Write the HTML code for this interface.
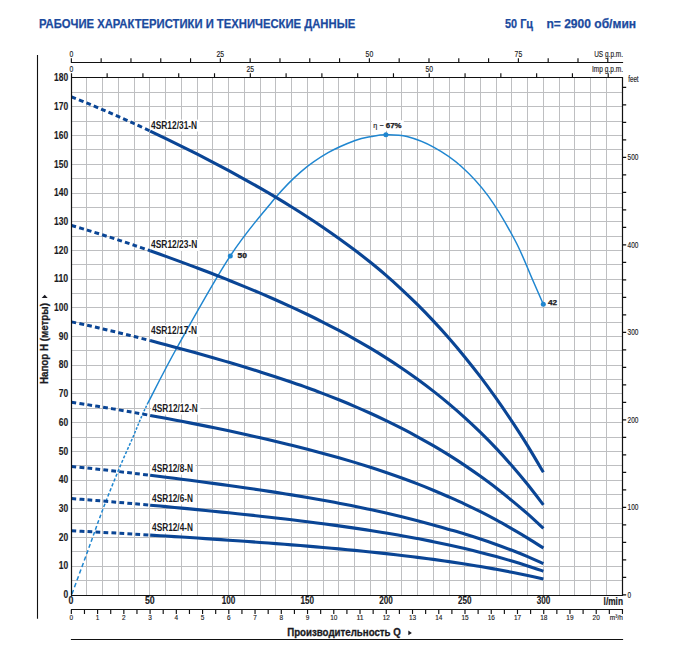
<!DOCTYPE html>
<html><head><meta charset="utf-8"><title>chart</title>
<style>html,body{margin:0;padding:0;background:#fff}svg{display:block}text{font-family:"Liberation Sans",sans-serif;white-space:pre}</style></head><body>
<svg width="678" height="666" viewBox="0 0 678 666">
<rect width="678" height="666" fill="#fff"/>
<text x="39.00" y="28.40" font-size="12.70" font-weight="bold" textLength="316.20" lengthAdjust="spacingAndGlyphs" fill="#1b4a9e" stroke="#1b4a9e" stroke-width="0.25">РАБОЧИЕ ХАРАКТЕРИСТИКИ И ТЕХНИЧЕСКИЕ ДАННЫЕ</text>
<text x="505.00" y="28.40" font-size="12.70" font-weight="bold" textLength="28.00" lengthAdjust="spacingAndGlyphs" fill="#1b4a9e" stroke="#1b4a9e" stroke-width="0.25">50 Гц</text>
<text x="546.40" y="28.40" font-size="12.70" font-weight="bold" textLength="89.70" lengthAdjust="spacingAndGlyphs" fill="#1b4a9e" stroke="#1b4a9e" stroke-width="0.25">n= 2900 об/мин</text>
<path d="M86.5 77.50V595.50M102.5 77.50V595.50M118.5 77.50V595.50M134.5 77.50V595.50M149.5 77.50V595.50M165.5 77.50V595.50M181.5 77.50V595.50M197.5 77.50V595.50M212.5 77.50V595.50M228.5 77.50V595.50M244.5 77.50V595.50M260.5 77.50V595.50M275.5 77.50V595.50M291.5 77.50V595.50M307.5 77.50V595.50M323.5 77.50V595.50M338.5 77.50V595.50M354.5 77.50V595.50M370.5 77.50V595.50M386.5 77.50V595.50M401.5 77.50V595.50M417.5 77.50V595.50M433.5 77.50V595.50M449.5 77.50V595.50M464.5 77.50V595.50M480.5 77.50V595.50M496.5 77.50V595.50M511.5 77.50V595.50M527.5 77.50V595.50M543.5 77.50V595.50M559.5 77.50V595.50M574.5 77.50V595.50M590.5 77.50V595.50M606.5 77.50V595.50M71.50 580.5H622.50M71.50 566.5H622.50M71.50 551.5H622.50M71.50 537.5H622.50M71.50 523.5H622.50M71.50 508.5H622.50M71.50 494.5H622.50M71.50 480.5H622.50M71.50 465.5H622.50M71.50 451.5H622.50M71.50 437.5H622.50M71.50 422.5H622.50M71.50 408.5H622.50M71.50 393.5H622.50M71.50 379.5H622.50M71.50 365.5H622.50M71.50 350.5H622.50M71.50 336.5H622.50M71.50 322.5H622.50M71.50 307.5H622.50M71.50 293.5H622.50M71.50 279.5H622.50M71.50 264.5H622.50M71.50 250.5H622.50M71.50 236.5H622.50M71.50 221.5H622.50M71.50 207.5H622.50M71.50 193.5H622.50M71.50 178.5H622.50M71.50 164.5H622.50M71.50 149.5H622.50M71.50 135.5H622.50M71.50 121.5H622.50M71.50 106.5H622.50M71.50 92.5H622.50" stroke="#bebfc1" stroke-width="1" fill="none"/>
<rect x="150.10" y="119.60" width="49.50" height="11.90" fill="#fff"/>
<rect x="150.10" y="239.10" width="49.70" height="11.80" fill="#fff"/>
<rect x="150.10" y="325.00" width="49.50" height="11.80" fill="#fff"/>
<rect x="151.20" y="402.80" width="49.10" height="11.80" fill="#fff"/>
<rect x="151.10" y="462.60" width="44.40" height="11.90" fill="#fff"/>
<rect x="151.10" y="492.60" width="44.40" height="11.90" fill="#fff"/>
<rect x="151.10" y="521.50" width="44.40" height="11.80" fill="#fff"/>
<rect x="371.9" y="120.2" width="31.9" height="10.6" fill="#fff"/>
<path d="M71.84 594.26L73.45 589.91M74.43 587.24L76.00 582.97M76.96 580.35L78.50 576.16M79.45 573.59L80.96 569.48M81.89 566.96L83.37 562.93M84.27 560.45L85.72 556.49M86.61 554.07L88.03 550.18M88.89 547.79L90.26 543.97M91.10 541.63L92.44 537.88M93.27 535.58L94.58 531.90M95.39 529.65L96.69 526.04M97.49 523.83L98.77 520.30M99.56 518.13L100.84 514.67M101.63 512.55L102.91 509.16M103.70 507.09L104.98 503.77M105.77 501.74L107.04 498.50M107.82 496.51L109.08 493.33M109.86 491.38L111.11 488.27M111.87 486.36L113.11 483.31M113.87 481.44L115.09 478.45M115.85 476.62L117.05 473.69M117.80 471.90L118.99 469.03M119.72 467.27L120.91 464.46M121.64 462.74L122.82 459.99M123.56 458.31L124.74 455.62M125.47 453.97L126.64 451.34M127.36 449.73L128.52 447.15M129.22 445.57L130.35 443.04M131.04 441.48L132.14 438.99M132.81 437.46L133.86 435.01M134.49 433.50L135.50 431.08M136.11 429.60L137.09 427.22M137.69 425.77L138.66 423.44M139.25 422.01L140.22 419.73M140.81 418.34L141.78 416.12M142.38 414.76L143.36 412.58M143.97 411.26L144.95 409.14M145.56 407.84L146.55 405.77M147.16 404.51L147.80 403.20" stroke="#1f86d0" stroke-width="1.5" fill="none"/>
<path d="M147.80 403.20 C152.77 393.75 163.85 371.05 177.60 346.50 C191.35 321.95 214.00 280.68 230.30 255.90 C246.60 231.12 263.60 211.85 275.40 197.80 C287.20 183.75 292.32 179.12 301.10 171.60 C309.88 164.08 319.10 157.88 328.10 152.70 C337.10 147.52 347.88 143.20 355.10 140.50 C362.32 137.80 366.25 137.47 371.40 136.50 C376.55 135.53 380.07 134.70 386.00 134.70 C391.93 134.70 399.00 134.40 407.00 136.50 C415.00 138.60 424.98 142.35 434.00 147.30 C443.02 152.25 452.08 158.10 461.10 166.20 C470.12 174.30 479.10 183.52 488.10 195.90 C497.10 208.28 507.67 226.48 515.10 240.50 C522.53 254.52 528.00 269.37 532.70 280.00 C537.40 290.63 541.53 300.25 543.30 304.30" stroke="#1f86d0" stroke-width="1.5" fill="none"/>
<circle cx="230.3" cy="255.9" r="2.5" fill="#1f86d0"/>
<circle cx="385.9" cy="134.8" r="2.5" fill="#1f86d0"/>
<circle cx="543.3" cy="304.3" r="2.5" fill="#1f86d0"/>
<path d="M71.50 96.90 C74.12 97.95 81.99 101.05 87.23 103.20 C92.47 105.35 97.72 107.56 102.96 109.80 C108.20 112.04 113.45 114.33 118.69 116.66 C123.93 118.98 129.18 121.35 134.42 123.75 C139.66 126.15 147.53 129.84 150.15 131.06" stroke="#0a4595" stroke-width="3.0" fill="none" stroke-dasharray="4.8 3.2"/>
<path d="M150.15 131.06 C152.77 132.31 160.64 136.04 165.88 138.58 C171.12 141.12 176.37 143.69 181.61 146.29 C186.85 148.90 192.10 151.54 197.34 154.21 C202.58 156.88 207.83 159.59 213.07 162.34 C218.31 165.09 223.56 167.87 228.80 170.70 C234.04 173.52 239.29 176.39 244.53 179.30 C249.77 182.22 255.02 185.18 260.26 188.19 C265.50 191.21 270.75 194.27 275.99 197.40 C281.23 200.53 286.48 203.71 291.72 206.97 C296.96 210.22 302.21 213.54 307.45 216.95 C312.69 220.36 317.94 223.83 323.18 227.41 C328.42 230.98 333.67 234.63 338.91 238.40 C344.15 242.17 349.40 246.02 354.64 250.01 C359.88 253.99 365.13 258.07 370.37 262.30 C375.61 266.53 380.86 270.84 386.10 275.38 C391.34 279.91 396.59 284.64 401.83 289.52 C407.07 294.40 412.32 299.42 417.56 304.64 C422.80 309.86 428.05 315.24 433.29 320.84 C438.53 326.43 443.78 332.21 449.02 338.23 C454.26 344.25 459.51 350.49 464.75 356.94 C469.99 363.38 475.24 369.98 480.48 376.90 C485.72 383.81 490.97 391.02 496.21 398.44 C501.45 405.85 506.70 413.46 511.94 421.36 C517.18 429.26 522.43 437.33 527.67 445.82 C532.91 454.31 540.78 467.90 543.40 472.32" stroke="#0a4595" stroke-width="3.1" fill="none"/>
<path d="M71.50 225.44 C74.12 226.22 81.99 228.52 87.23 230.12 C92.47 231.71 97.72 233.35 102.96 235.01 C108.20 236.67 113.45 238.37 118.69 240.10 C123.93 241.82 129.18 243.58 134.42 245.36 C139.66 247.14 147.53 249.88 150.15 250.79" stroke="#0a4595" stroke-width="3.0" fill="none" stroke-dasharray="4.8 3.2"/>
<path d="M150.15 250.79 C152.77 251.72 160.64 254.48 165.88 256.36 C171.12 258.25 176.37 260.15 181.61 262.09 C186.85 264.02 192.10 265.98 197.34 267.96 C202.58 269.95 207.83 271.96 213.07 273.99 C218.31 276.03 223.56 278.10 228.80 280.19 C234.04 282.29 239.29 284.42 244.53 286.58 C249.77 288.74 255.02 290.94 260.26 293.17 C265.50 295.41 270.75 297.68 275.99 300.00 C281.23 302.33 286.48 304.69 291.72 307.10 C296.96 309.52 302.21 311.98 307.45 314.51 C312.69 317.04 317.94 319.62 323.18 322.27 C328.42 324.92 333.67 327.63 338.91 330.43 C344.15 333.22 349.40 336.08 354.64 339.04 C359.88 341.99 365.13 345.02 370.37 348.16 C375.61 351.30 380.86 354.52 386.10 357.86 C391.34 361.20 396.59 364.64 401.83 368.21 C407.07 371.77 412.32 375.45 417.56 379.27 C422.80 383.10 428.05 387.04 433.29 391.14 C438.53 395.25 443.78 399.48 449.02 403.90 C454.26 408.31 459.51 412.88 464.75 417.63 C469.99 422.39 475.24 427.31 480.48 432.44 C485.72 437.57 490.97 442.87 496.21 448.42 C501.45 453.97 506.70 459.74 511.94 465.76 C517.18 471.79 522.43 478.05 527.67 484.57 C532.91 491.10 540.78 501.51 543.40 504.90" stroke="#0a4595" stroke-width="3.1" fill="none"/>
<path d="M71.50 321.85 C74.12 322.43 81.99 324.13 87.23 325.30 C92.47 326.48 97.72 327.69 102.96 328.92 C108.20 330.15 113.45 331.41 118.69 332.68 C123.93 333.96 129.18 335.26 134.42 336.57 C139.66 337.89 147.53 339.91 150.15 340.58" stroke="#0a4595" stroke-width="3.0" fill="none" stroke-dasharray="4.8 3.2"/>
<path d="M150.15 340.58 C152.77 341.27 160.64 343.31 165.88 344.70 C171.12 346.10 176.37 347.51 181.61 348.93 C186.85 350.36 192.10 351.81 197.34 353.28 C202.58 354.74 207.83 356.23 213.07 357.73 C218.31 359.24 223.56 360.77 228.80 362.32 C234.04 363.87 239.29 365.44 244.53 367.04 C249.77 368.64 255.02 370.26 260.26 371.91 C265.50 373.56 270.75 375.24 275.99 376.96 C281.23 378.68 286.48 380.42 291.72 382.21 C296.96 383.99 302.21 385.78 307.45 387.68 C312.69 389.58 317.94 391.58 323.18 393.60 C328.42 395.62 333.67 397.68 338.91 399.81 C344.15 401.93 349.40 404.10 354.64 406.35 C359.88 408.59 365.13 410.89 370.37 413.27 C375.61 415.65 380.86 418.10 386.10 420.62 C391.34 423.15 396.59 425.74 401.83 428.43 C407.07 431.12 412.32 433.90 417.56 436.77 C422.80 439.64 428.05 442.59 433.29 445.65 C438.53 448.71 443.78 451.85 449.02 455.14 C454.26 458.42 459.51 461.81 464.75 465.35 C469.99 468.88 475.24 472.57 480.48 476.35 C485.72 480.12 490.97 483.96 496.21 488.01 C501.45 492.05 506.70 496.29 511.94 500.62 C517.18 504.94 522.43 509.32 527.67 513.95 C532.91 518.58 540.78 526.00 543.40 528.41" stroke="#0a4595" stroke-width="3.1" fill="none"/>
<path d="M71.50 402.19 C74.12 402.59 81.99 403.79 87.23 404.63 C92.47 405.46 97.72 406.31 102.96 407.18 C108.20 408.05 113.45 408.93 118.69 409.83 C123.93 410.73 129.18 411.65 134.42 412.58 C139.66 413.51 147.53 414.94 150.15 415.41" stroke="#0a4595" stroke-width="3.0" fill="none" stroke-dasharray="4.8 3.2"/>
<path d="M150.15 415.41 C152.77 415.90 160.64 417.34 165.88 418.32 C171.12 419.30 176.37 420.30 181.61 421.31 C186.85 422.32 192.10 423.34 197.34 424.37 C202.58 425.41 207.83 426.45 213.07 427.52 C218.31 428.58 223.56 429.64 228.80 430.75 C234.04 431.87 239.29 433.03 244.53 434.20 C249.77 435.37 255.02 436.55 260.26 437.75 C265.50 438.96 270.75 440.18 275.99 441.43 C281.23 442.68 286.48 443.95 291.72 445.25 C296.96 446.55 302.21 447.87 307.45 449.23 C312.69 450.59 317.94 451.97 323.18 453.39 C328.42 454.81 333.67 456.26 338.91 457.76 C344.15 459.26 349.40 460.80 354.64 462.38 C359.88 463.97 365.13 465.59 370.37 467.27 C375.61 468.95 380.86 470.67 386.10 472.46 C391.34 474.25 396.59 476.08 401.83 477.99 C407.07 479.89 412.32 481.85 417.56 483.89 C422.80 485.93 428.05 488.03 433.29 490.21 C438.53 492.40 443.78 494.68 449.02 497.00 C454.26 499.31 459.51 501.62 464.75 504.07 C469.99 506.53 475.24 509.06 480.48 511.71 C485.72 514.36 490.97 517.10 496.21 519.96 C501.45 522.82 506.70 525.86 511.94 528.88 C517.18 531.90 522.43 534.89 527.67 538.09 C532.91 541.29 540.78 546.41 543.40 548.08" stroke="#0a4595" stroke-width="3.1" fill="none"/>
<path d="M71.50 466.46 C74.12 466.73 81.99 467.53 87.23 468.08 C92.47 468.64 97.72 469.21 102.96 469.79 C108.20 470.37 113.45 470.96 118.69 471.56 C123.93 472.16 129.18 472.77 134.42 473.39 C139.66 474.01 147.53 474.96 150.15 475.27" stroke="#0a4595" stroke-width="3.0" fill="none" stroke-dasharray="4.8 3.2"/>
<path d="M150.15 475.27 C152.77 475.60 160.64 476.56 165.88 477.21 C171.12 477.87 176.37 478.53 181.61 479.20 C186.85 479.88 192.10 480.56 197.34 481.25 C202.58 481.94 207.83 482.64 213.07 483.35 C218.31 484.05 223.56 484.77 228.80 485.50 C234.04 486.23 239.29 486.97 244.53 487.72 C249.77 488.48 255.02 489.24 260.26 490.02 C265.50 490.80 270.75 491.59 275.99 492.39 C281.23 493.20 286.48 494.02 291.72 494.86 C296.96 495.70 302.21 496.54 307.45 497.44 C312.69 498.33 317.94 499.28 323.18 500.24 C328.42 501.19 333.67 502.17 338.91 503.17 C344.15 504.18 349.40 505.21 354.64 506.27 C359.88 507.33 365.13 508.42 370.37 509.54 C375.61 510.67 380.86 511.82 386.10 513.02 C391.34 514.21 396.59 515.44 401.83 516.72 C407.07 517.99 412.32 519.30 417.56 520.66 C422.80 522.03 428.05 523.43 433.29 524.89 C438.53 526.35 443.78 527.90 449.02 529.43 C454.26 530.96 459.51 532.45 464.75 534.06 C469.99 535.66 475.24 537.32 480.48 539.06 C485.72 540.79 490.97 542.59 496.21 544.47 C501.45 546.34 506.70 548.29 511.94 550.32 C517.18 552.35 522.43 554.46 527.67 556.66 C532.91 558.86 540.78 562.38 543.40 563.52" stroke="#0a4595" stroke-width="3.1" fill="none"/>
<path d="M71.50 498.59 C74.12 498.80 81.99 499.39 87.23 499.81 C92.47 500.22 97.72 500.64 102.96 501.08 C108.20 501.51 113.45 501.95 118.69 502.40 C123.93 502.85 129.18 503.30 134.42 503.76 C139.66 504.23 147.53 504.94 150.15 505.17" stroke="#0a4595" stroke-width="3.0" fill="none" stroke-dasharray="4.8 3.2"/>
<path d="M150.15 505.17 C152.77 505.41 160.64 506.13 165.88 506.62 C171.12 507.11 176.37 507.60 181.61 508.11 C186.85 508.61 192.10 509.12 197.34 509.63 C202.58 510.15 207.83 510.67 213.07 511.20 C218.31 511.73 223.56 512.26 228.80 512.81 C234.04 513.35 239.29 513.91 244.53 514.47 C249.77 515.03 255.02 515.60 260.26 516.18 C265.50 516.76 270.75 517.35 275.99 517.96 C281.23 518.56 286.48 519.17 291.72 519.80 C296.96 520.43 302.21 521.07 307.45 521.73 C312.69 522.39 317.94 523.06 323.18 523.75 C328.42 524.44 333.67 525.14 338.91 525.87 C344.15 526.59 349.40 527.34 354.64 528.11 C359.88 528.88 365.13 529.66 370.37 530.48 C375.61 531.30 380.86 532.13 386.10 533.00 C391.34 533.87 396.59 534.77 401.83 535.70 C407.07 536.63 412.32 537.58 417.56 538.58 C422.80 539.57 428.05 540.60 433.29 541.67 C438.53 542.74 443.78 543.84 449.02 544.99 C454.26 546.14 459.51 547.32 464.75 548.56 C469.99 549.80 475.24 551.08 480.48 552.42 C485.72 553.76 490.97 555.14 496.21 556.58 C501.45 558.02 506.70 559.52 511.94 561.08 C517.18 562.64 522.43 564.25 527.67 565.94 C532.91 567.62 540.78 570.31 543.40 571.19" stroke="#0a4595" stroke-width="3.1" fill="none"/>
<path d="M71.50 530.73 C74.12 530.86 81.99 531.26 87.23 531.54 C92.47 531.81 97.72 532.09 102.96 532.38 C108.20 532.67 113.45 532.96 118.69 533.26 C123.93 533.56 129.18 533.86 134.42 534.17 C139.66 534.47 147.53 534.95 150.15 535.10" stroke="#0a4595" stroke-width="3.0" fill="none" stroke-dasharray="4.8 3.2"/>
<path d="M150.15 535.10 C152.77 535.26 160.64 535.74 165.88 536.07 C171.12 536.39 176.37 536.72 181.61 537.06 C186.85 537.39 192.10 537.73 197.34 538.07 C202.58 538.41 207.83 538.76 213.07 539.11 C218.31 539.47 223.56 539.82 228.80 540.18 C234.04 540.55 239.29 540.91 244.53 541.29 C249.77 541.66 255.02 542.04 260.26 542.43 C265.50 542.82 270.75 543.21 275.99 543.61 C281.23 544.01 286.48 544.42 291.72 544.84 C296.96 545.26 302.21 545.68 307.45 546.12 C312.69 546.56 317.94 547.00 323.18 547.46 C328.42 547.92 333.67 548.39 338.91 548.87 C344.15 549.36 349.40 549.85 354.64 550.36 C359.88 550.88 365.13 551.40 370.37 551.94 C375.61 552.49 380.86 553.05 386.10 553.62 C391.34 554.20 396.59 554.80 401.83 555.42 C407.07 556.04 412.32 556.67 417.56 557.34 C422.80 558.00 428.05 558.68 433.29 559.39 C438.53 560.10 443.78 560.84 449.02 561.61 C454.26 562.37 459.51 563.16 464.75 563.99 C469.99 564.81 475.24 565.67 480.48 566.56 C485.72 567.45 490.97 568.37 496.21 569.33 C501.45 570.29 506.70 571.28 511.94 572.32 C517.18 573.36 522.43 574.44 527.67 575.56 C532.91 576.68 540.78 578.48 543.40 579.06" stroke="#0a4595" stroke-width="3.1" fill="none"/>
<text x="151.10" y="128.90" font-size="10.50" font-weight="bold" textLength="46.00" lengthAdjust="spacingAndGlyphs" fill="#1a1a22">4SR12/31-N</text>
<text x="151.10" y="248.30" font-size="10.50" font-weight="bold" textLength="46.20" lengthAdjust="spacingAndGlyphs" fill="#1a1a22">4SR12/23-N</text>
<text x="151.10" y="334.20" font-size="10.50" font-weight="bold" textLength="46.00" lengthAdjust="spacingAndGlyphs" fill="#1a1a22">4SR12/17-N</text>
<text x="152.20" y="412.00" font-size="10.50" font-weight="bold" textLength="45.60" lengthAdjust="spacingAndGlyphs" fill="#1a1a22">4SR12/12-N</text>
<text x="152.10" y="471.90" font-size="10.50" font-weight="bold" textLength="40.90" lengthAdjust="spacingAndGlyphs" fill="#1a1a22">4SR12/8-N</text>
<text x="152.10" y="501.90" font-size="10.50" font-weight="bold" textLength="40.90" lengthAdjust="spacingAndGlyphs" fill="#1a1a22">4SR12/6-N</text>
<text x="152.10" y="530.70" font-size="10.50" font-weight="bold" textLength="40.90" lengthAdjust="spacingAndGlyphs" fill="#1a1a22">4SR12/4-N</text>
<text x="373.30" y="128.00" font-size="6.50" textLength="4.00" lengthAdjust="spacingAndGlyphs" fill="#1a1a22" stroke="#1a1a22" stroke-width="0.15">η</text>
<text x="379.60" y="127.40" font-size="6.50" font-weight="bold" textLength="4.30" lengthAdjust="spacingAndGlyphs" fill="#1a1a22">–</text>
<text x="385.80" y="128.00" font-size="6.30" font-weight="bold" textLength="15.80" lengthAdjust="spacingAndGlyphs" fill="#1a1a22" stroke="#1a1a22" stroke-width="0.25">67%</text>
<text x="237.50" y="257.80" font-size="6.30" font-weight="bold" textLength="9.40" lengthAdjust="spacingAndGlyphs" fill="#1a1a22" stroke="#1a1a22" stroke-width="0.25">50</text>
<text x="548.00" y="304.90" font-size="6.30" font-weight="bold" textLength="9.10" lengthAdjust="spacingAndGlyphs" fill="#1a1a22" stroke="#1a1a22" stroke-width="0.25">42</text>
<path d="M71.50 73.20V595.50H622.50V77.50H70.90" stroke="#111" stroke-width="1.2" fill="none"/>
<path d="M107.14 77.50V73.20M142.93 77.50V73.20M178.72 77.50V73.20M214.52 77.50V73.20M250.31 77.50V73.20M286.10 77.50V73.20M321.89 77.50V73.20M357.68 77.50V73.20M393.47 77.50V73.20M429.26 77.50V73.20M465.06 77.50V73.20M500.85 77.50V73.20M536.64 77.50V73.20M572.43 77.50V73.20M608.22 77.50V73.20M70.90 62.50H623.10M71.35 62.50V58.20M101.15 62.50V58.20M130.96 62.50V58.20M160.76 62.50V58.20M190.56 62.50V58.20M220.36 62.50V58.20M250.17 62.50V58.20M279.97 62.50V58.20M309.77 62.50V58.20M339.57 62.50V58.20M369.38 62.50V58.20M399.18 62.50V58.20M428.98 62.50V58.20M458.78 62.50V58.20M488.59 62.50V58.20M518.39 62.50V58.20M548.19 62.50V58.20M577.99 62.50V58.20M607.80 62.50V58.20M622.50 594.90H626.20M622.50 577.40H626.20M622.50 559.90H626.20M622.50 542.40H626.20M622.50 524.90H626.20M622.50 507.40H626.20M622.50 489.90H626.20M622.50 472.41H626.20M622.50 454.91H626.20M622.50 437.41H626.20M622.50 419.91H626.20M622.50 402.41H626.20M622.50 384.91H626.20M622.50 367.41H626.20M622.50 349.91H626.20M622.50 332.41H626.20M622.50 314.91H626.20M622.50 297.41H626.20M622.50 279.91H626.20M622.50 262.42H626.20M622.50 244.92H626.20M622.50 227.42H626.20M622.50 209.92H626.20M622.50 192.42H626.20M622.50 174.92H626.20M622.50 157.42H626.20M622.50 139.92H626.20M622.50 122.42H626.20M622.50 104.92H626.20M622.50 87.42H626.20M70.90 609.50H623.10M71.35 609.50V613.90M84.47 609.50V613.90M97.59 609.50V613.90M110.72 609.50V613.90M123.84 609.50V613.90M136.96 609.50V613.90M150.08 609.50V613.90M163.20 609.50V613.90M176.32 609.50V613.90M189.45 609.50V613.90M202.57 609.50V613.90M215.69 609.50V613.90M228.81 609.50V613.90M241.93 609.50V613.90M255.05 609.50V613.90M268.18 609.50V613.90M281.30 609.50V613.90M294.42 609.50V613.90M307.54 609.50V613.90M320.66 609.50V613.90M333.78 609.50V613.90M346.91 609.50V613.90M360.03 609.50V613.90M373.15 609.50V613.90M386.27 609.50V613.90M399.39 609.50V613.90M412.51 609.50V613.90M425.64 609.50V613.90M438.76 609.50V613.90M451.88 609.50V613.90M465.00 609.50V613.90M478.12 609.50V613.90M491.24 609.50V613.90M504.37 609.50V613.90M517.49 609.50V613.90M530.61 609.50V613.90M543.73 609.50V613.90M556.85 609.50V613.90M569.97 609.50V613.90M583.10 609.50V613.90M596.22 609.50V613.90M609.34 609.50V613.90M622.46 609.50V613.90" stroke="#111" stroke-width="1.15" fill="none"/>
<path d="M37.5 55V618.7" stroke="#111" stroke-width="1.1" fill="none"/>
<path d="M70.90 639.5H623.10" stroke="#111" stroke-width="1.1" fill="none"/>
<text x="71.35" y="56.50" font-size="8.30" text-anchor="middle" textLength="3.80" lengthAdjust="spacingAndGlyphs" fill="#1a1a22" stroke="#1a1a22" stroke-width="0.15">0</text>
<text x="71.35" y="71.50" font-size="8.30" text-anchor="middle" textLength="3.80" lengthAdjust="spacingAndGlyphs" fill="#1a1a22" stroke="#1a1a22" stroke-width="0.15">0</text>
<text x="220.36" y="56.50" font-size="8.30" text-anchor="middle" textLength="7.60" lengthAdjust="spacingAndGlyphs" fill="#1a1a22" stroke="#1a1a22" stroke-width="0.15">25</text>
<text x="250.31" y="71.50" font-size="8.30" text-anchor="middle" textLength="7.60" lengthAdjust="spacingAndGlyphs" fill="#1a1a22" stroke="#1a1a22" stroke-width="0.15">25</text>
<text x="369.38" y="56.50" font-size="8.30" text-anchor="middle" textLength="7.60" lengthAdjust="spacingAndGlyphs" fill="#1a1a22" stroke="#1a1a22" stroke-width="0.15">50</text>
<text x="429.26" y="71.50" font-size="8.30" text-anchor="middle" textLength="7.60" lengthAdjust="spacingAndGlyphs" fill="#1a1a22" stroke="#1a1a22" stroke-width="0.15">50</text>
<text x="518.39" y="56.50" font-size="8.30" text-anchor="middle" textLength="7.60" lengthAdjust="spacingAndGlyphs" fill="#1a1a22" stroke="#1a1a22" stroke-width="0.15">75</text>
<text x="594.20" y="56.60" font-size="8.30" textLength="28.80" lengthAdjust="spacingAndGlyphs" fill="#1a1a22" stroke="#1a1a22" stroke-width="0.15">US g.p.m.</text>
<text x="592.00" y="71.60" font-size="8.30" textLength="31.00" lengthAdjust="spacingAndGlyphs" fill="#1a1a22" stroke="#1a1a22" stroke-width="0.15">Imp g.p.m.</text>
<text x="628.20" y="82.40" font-size="8.30" textLength="10.40" lengthAdjust="spacingAndGlyphs" fill="#1a1a22" stroke="#1a1a22" stroke-width="0.15">feet</text>
<text x="627.60" y="597.50" font-size="8.30" textLength="3.60" lengthAdjust="spacingAndGlyphs" fill="#1a1a22" stroke="#1a1a22" stroke-width="0.15">0</text>
<text x="627.60" y="510.00" font-size="8.30" textLength="10.80" lengthAdjust="spacingAndGlyphs" fill="#1a1a22" stroke="#1a1a22" stroke-width="0.15">100</text>
<text x="627.60" y="422.51" font-size="8.30" textLength="10.80" lengthAdjust="spacingAndGlyphs" fill="#1a1a22" stroke="#1a1a22" stroke-width="0.15">200</text>
<text x="627.60" y="335.01" font-size="8.30" textLength="10.80" lengthAdjust="spacingAndGlyphs" fill="#1a1a22" stroke="#1a1a22" stroke-width="0.15">300</text>
<text x="627.60" y="247.52" font-size="8.30" textLength="10.80" lengthAdjust="spacingAndGlyphs" fill="#1a1a22" stroke="#1a1a22" stroke-width="0.15">400</text>
<text x="627.60" y="160.02" font-size="8.30" textLength="10.80" lengthAdjust="spacingAndGlyphs" fill="#1a1a22" stroke="#1a1a22" stroke-width="0.15">500</text>
<text x="71.35" y="619.80" font-size="7.60" text-anchor="middle" textLength="3.60" lengthAdjust="spacingAndGlyphs" fill="#1a1a22" stroke="#1a1a22" stroke-width="0.15">0</text>
<text x="97.59" y="619.80" font-size="7.60" text-anchor="middle" textLength="3.60" lengthAdjust="spacingAndGlyphs" fill="#1a1a22" stroke="#1a1a22" stroke-width="0.15">1</text>
<text x="123.84" y="619.80" font-size="7.60" text-anchor="middle" textLength="3.60" lengthAdjust="spacingAndGlyphs" fill="#1a1a22" stroke="#1a1a22" stroke-width="0.15">2</text>
<text x="150.08" y="619.80" font-size="7.60" text-anchor="middle" textLength="3.60" lengthAdjust="spacingAndGlyphs" fill="#1a1a22" stroke="#1a1a22" stroke-width="0.15">3</text>
<text x="176.32" y="619.80" font-size="7.60" text-anchor="middle" textLength="3.60" lengthAdjust="spacingAndGlyphs" fill="#1a1a22" stroke="#1a1a22" stroke-width="0.15">4</text>
<text x="202.57" y="619.80" font-size="7.60" text-anchor="middle" textLength="3.60" lengthAdjust="spacingAndGlyphs" fill="#1a1a22" stroke="#1a1a22" stroke-width="0.15">5</text>
<text x="228.81" y="619.80" font-size="7.60" text-anchor="middle" textLength="3.60" lengthAdjust="spacingAndGlyphs" fill="#1a1a22" stroke="#1a1a22" stroke-width="0.15">6</text>
<text x="255.05" y="619.80" font-size="7.60" text-anchor="middle" textLength="3.60" lengthAdjust="spacingAndGlyphs" fill="#1a1a22" stroke="#1a1a22" stroke-width="0.15">7</text>
<text x="281.30" y="619.80" font-size="7.60" text-anchor="middle" textLength="3.60" lengthAdjust="spacingAndGlyphs" fill="#1a1a22" stroke="#1a1a22" stroke-width="0.15">8</text>
<text x="307.54" y="619.80" font-size="7.60" text-anchor="middle" textLength="3.60" lengthAdjust="spacingAndGlyphs" fill="#1a1a22" stroke="#1a1a22" stroke-width="0.15">9</text>
<text x="333.78" y="619.80" font-size="7.60" text-anchor="middle" textLength="7.20" lengthAdjust="spacingAndGlyphs" fill="#1a1a22" stroke="#1a1a22" stroke-width="0.15">10</text>
<text x="360.03" y="619.80" font-size="7.60" text-anchor="middle" textLength="7.20" lengthAdjust="spacingAndGlyphs" fill="#1a1a22" stroke="#1a1a22" stroke-width="0.15">11</text>
<text x="386.27" y="619.80" font-size="7.60" text-anchor="middle" textLength="7.20" lengthAdjust="spacingAndGlyphs" fill="#1a1a22" stroke="#1a1a22" stroke-width="0.15">12</text>
<text x="412.51" y="619.80" font-size="7.60" text-anchor="middle" textLength="7.20" lengthAdjust="spacingAndGlyphs" fill="#1a1a22" stroke="#1a1a22" stroke-width="0.15">13</text>
<text x="438.76" y="619.80" font-size="7.60" text-anchor="middle" textLength="7.20" lengthAdjust="spacingAndGlyphs" fill="#1a1a22" stroke="#1a1a22" stroke-width="0.15">14</text>
<text x="465.00" y="619.80" font-size="7.60" text-anchor="middle" textLength="7.20" lengthAdjust="spacingAndGlyphs" fill="#1a1a22" stroke="#1a1a22" stroke-width="0.15">15</text>
<text x="491.24" y="619.80" font-size="7.60" text-anchor="middle" textLength="7.20" lengthAdjust="spacingAndGlyphs" fill="#1a1a22" stroke="#1a1a22" stroke-width="0.15">16</text>
<text x="517.49" y="619.80" font-size="7.60" text-anchor="middle" textLength="7.20" lengthAdjust="spacingAndGlyphs" fill="#1a1a22" stroke="#1a1a22" stroke-width="0.15">17</text>
<text x="543.73" y="619.80" font-size="7.60" text-anchor="middle" textLength="7.20" lengthAdjust="spacingAndGlyphs" fill="#1a1a22" stroke="#1a1a22" stroke-width="0.15">18</text>
<text x="569.97" y="619.80" font-size="7.60" text-anchor="middle" textLength="7.20" lengthAdjust="spacingAndGlyphs" fill="#1a1a22" stroke="#1a1a22" stroke-width="0.15">19</text>
<text x="596.22" y="619.80" font-size="7.60" text-anchor="middle" textLength="7.20" lengthAdjust="spacingAndGlyphs" fill="#1a1a22" stroke="#1a1a22" stroke-width="0.15">20</text>
<text x="609.80" y="619.80" font-size="7.60" textLength="13.00" lengthAdjust="spacingAndGlyphs" fill="#1a1a22" stroke="#1a1a22" stroke-width="0.15">m³/h</text>
<text x="68.20" y="598.10" font-size="10.10" font-weight="bold" text-anchor="end" textLength="4.70" lengthAdjust="spacingAndGlyphs" fill="#1a1a22" stroke="#1a1a22" stroke-width="0.15">0</text>
<text x="68.20" y="569.39" font-size="10.10" font-weight="bold" text-anchor="end" textLength="9.40" lengthAdjust="spacingAndGlyphs" fill="#1a1a22" stroke="#1a1a22" stroke-width="0.15">10</text>
<text x="68.20" y="540.69" font-size="10.10" font-weight="bold" text-anchor="end" textLength="9.40" lengthAdjust="spacingAndGlyphs" fill="#1a1a22" stroke="#1a1a22" stroke-width="0.15">20</text>
<text x="68.20" y="511.98" font-size="10.10" font-weight="bold" text-anchor="end" textLength="9.40" lengthAdjust="spacingAndGlyphs" fill="#1a1a22" stroke="#1a1a22" stroke-width="0.15">30</text>
<text x="68.20" y="483.28" font-size="10.10" font-weight="bold" text-anchor="end" textLength="9.40" lengthAdjust="spacingAndGlyphs" fill="#1a1a22" stroke="#1a1a22" stroke-width="0.15">40</text>
<text x="68.20" y="454.57" font-size="10.10" font-weight="bold" text-anchor="end" textLength="9.40" lengthAdjust="spacingAndGlyphs" fill="#1a1a22" stroke="#1a1a22" stroke-width="0.15">50</text>
<text x="68.20" y="425.86" font-size="10.10" font-weight="bold" text-anchor="end" textLength="9.40" lengthAdjust="spacingAndGlyphs" fill="#1a1a22" stroke="#1a1a22" stroke-width="0.15">60</text>
<text x="68.20" y="397.16" font-size="10.10" font-weight="bold" text-anchor="end" textLength="9.40" lengthAdjust="spacingAndGlyphs" fill="#1a1a22" stroke="#1a1a22" stroke-width="0.15">70</text>
<text x="68.20" y="368.45" font-size="10.10" font-weight="bold" text-anchor="end" textLength="9.40" lengthAdjust="spacingAndGlyphs" fill="#1a1a22" stroke="#1a1a22" stroke-width="0.15">80</text>
<text x="68.20" y="339.75" font-size="10.10" font-weight="bold" text-anchor="end" textLength="9.40" lengthAdjust="spacingAndGlyphs" fill="#1a1a22" stroke="#1a1a22" stroke-width="0.15">90</text>
<text x="68.20" y="311.04" font-size="10.10" font-weight="bold" text-anchor="end" textLength="14.10" lengthAdjust="spacingAndGlyphs" fill="#1a1a22" stroke="#1a1a22" stroke-width="0.15">100</text>
<text x="68.20" y="282.33" font-size="10.10" font-weight="bold" text-anchor="end" textLength="14.10" lengthAdjust="spacingAndGlyphs" fill="#1a1a22" stroke="#1a1a22" stroke-width="0.15">110</text>
<text x="68.20" y="253.63" font-size="10.10" font-weight="bold" text-anchor="end" textLength="14.10" lengthAdjust="spacingAndGlyphs" fill="#1a1a22" stroke="#1a1a22" stroke-width="0.15">120</text>
<text x="68.20" y="224.92" font-size="10.10" font-weight="bold" text-anchor="end" textLength="14.10" lengthAdjust="spacingAndGlyphs" fill="#1a1a22" stroke="#1a1a22" stroke-width="0.15">130</text>
<text x="68.20" y="196.22" font-size="10.10" font-weight="bold" text-anchor="end" textLength="14.10" lengthAdjust="spacingAndGlyphs" fill="#1a1a22" stroke="#1a1a22" stroke-width="0.15">140</text>
<text x="68.20" y="167.51" font-size="10.10" font-weight="bold" text-anchor="end" textLength="14.10" lengthAdjust="spacingAndGlyphs" fill="#1a1a22" stroke="#1a1a22" stroke-width="0.15">150</text>
<text x="68.20" y="138.80" font-size="10.10" font-weight="bold" text-anchor="end" textLength="14.10" lengthAdjust="spacingAndGlyphs" fill="#1a1a22" stroke="#1a1a22" stroke-width="0.15">160</text>
<text x="68.20" y="110.10" font-size="10.10" font-weight="bold" text-anchor="end" textLength="14.10" lengthAdjust="spacingAndGlyphs" fill="#1a1a22" stroke="#1a1a22" stroke-width="0.15">170</text>
<text x="68.20" y="81.39" font-size="10.10" font-weight="bold" text-anchor="end" textLength="14.10" lengthAdjust="spacingAndGlyphs" fill="#1a1a22" stroke="#1a1a22" stroke-width="0.15">180</text>
<text x="71.05" y="604.20" font-size="10.10" font-weight="bold" text-anchor="middle" textLength="4.90" lengthAdjust="spacingAndGlyphs" fill="#1a1a22" stroke="#1a1a22" stroke-width="0.15">0</text>
<text x="149.78" y="604.20" font-size="10.10" font-weight="bold" text-anchor="middle" textLength="9.80" lengthAdjust="spacingAndGlyphs" fill="#1a1a22" stroke="#1a1a22" stroke-width="0.15">50</text>
<text x="228.51" y="604.20" font-size="10.10" font-weight="bold" text-anchor="middle" textLength="13.60" lengthAdjust="spacingAndGlyphs" fill="#1a1a22" stroke="#1a1a22" stroke-width="0.15">100</text>
<text x="307.24" y="604.20" font-size="10.10" font-weight="bold" text-anchor="middle" textLength="13.60" lengthAdjust="spacingAndGlyphs" fill="#1a1a22" stroke="#1a1a22" stroke-width="0.15">150</text>
<text x="385.97" y="604.20" font-size="10.10" font-weight="bold" text-anchor="middle" textLength="13.60" lengthAdjust="spacingAndGlyphs" fill="#1a1a22" stroke="#1a1a22" stroke-width="0.15">200</text>
<text x="464.70" y="604.20" font-size="10.10" font-weight="bold" text-anchor="middle" textLength="13.60" lengthAdjust="spacingAndGlyphs" fill="#1a1a22" stroke="#1a1a22" stroke-width="0.15">250</text>
<text x="543.43" y="604.20" font-size="10.10" font-weight="bold" text-anchor="middle" textLength="13.60" lengthAdjust="spacingAndGlyphs" fill="#1a1a22" stroke="#1a1a22" stroke-width="0.15">300</text>
<text x="603.60" y="604.60" font-size="10.50" font-weight="bold" textLength="19.40" lengthAdjust="spacingAndGlyphs" fill="#1a1a22" stroke="#1a1a22" stroke-width="0.2">l/min</text>
<text x="287.20" y="636.20" font-size="10.00" font-weight="bold" textLength="113.60" lengthAdjust="spacingAndGlyphs" fill="#1a1a22" stroke="#1a1a22" stroke-width="0.3">Производительность Q</text>
<path d="M408.3 630.6L411.9 632.9L408.3 635.2Z" fill="#1a1a22"/>
<text transform="translate(47.8 384.1) rotate(-90)" font-size="10" font-weight="bold" fill="#1a1a22" stroke="#1a1a22" stroke-width="0.3" textLength="81" lengthAdjust="spacingAndGlyphs">Напор H (метры)</text>
<path d="M41.7 298.1L44.7 294.7L47.7 298.1Z" fill="#1a1a22"/>
</svg></body></html>
